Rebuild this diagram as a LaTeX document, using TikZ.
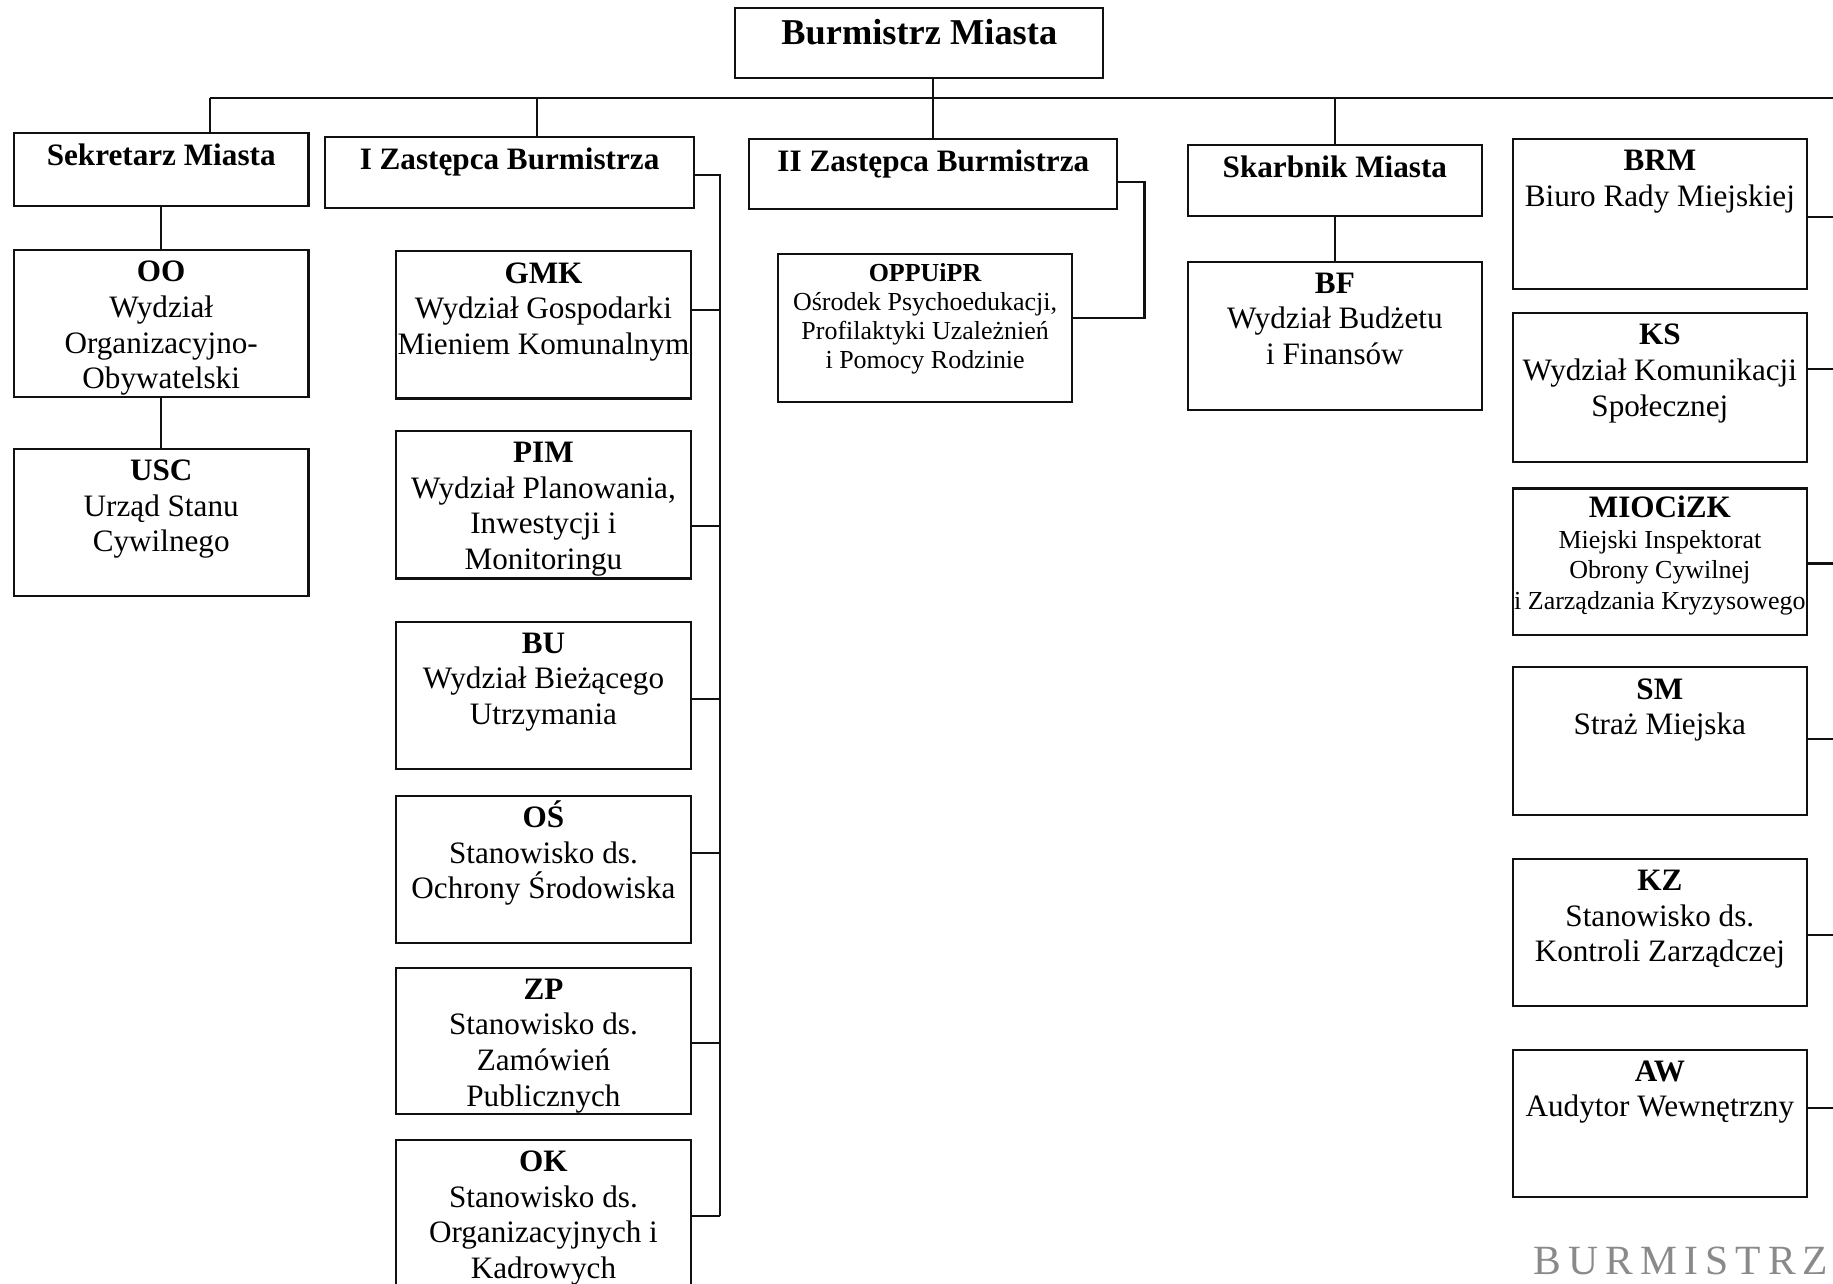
\documentclass[tikz,border=0pt]{standalone}
\usepackage{fontspec}
\setmainfont{Liberation Serif}
\newfontfamily\stampfont[LetterSpace=17]{Liberation Serif}
\usepackage{xcolor}
\definecolor{inkline}{HTML}{111111}
\definecolor{stampgray}{HTML}{8A8A8A}
\newcommand\px{0.45pt}
\tikzset{
  box/.style={draw=inkline, line width=0.8pt, anchor=north west, inner sep=0pt},
  dept/.style={box, minimum width=252*\px, minimum height=126*\px},
  intext/.style={below, align=center, inner sep=0pt, yshift=-4.5pt,
    font=\fontsize{12}{13.7}\selectfont},
  smalltext/.style={intext, font=\fontsize{10}{11.2}\selectfont},
  headtext/.style={intext, font=\fontsize{12}{14}\selectfont\bfseries},
  link/.style={inkline, line width=0.8pt},
  stamp/.style={text=stampgray, font=\stampfont\fontsize{16}{16}\selectfont, inner sep=0pt}
}

\begin{document}
\begin{tikzpicture}[x=\px, y=-\px]
    \fill[white] (0,0) rectangle (1568,1098);
    \useasboundingbox (0,0) rectangle (1568,1098);

    % Burmistrz
    \node[box, minimum width=315*\px, minimum height=60*\px,
      label={[headtext, font=\fontsize{14}{16}\selectfont\bfseries]north:Burmistrz Miasta}]
      (bm) at (628,6) {};

    % first row
    \node[box, minimum width=252*\px, minimum height=62*\px,
      label={[headtext]north:Sekretarz Miasta}] (sek) at (11,113) {};
    \node[box, minimum width=316*\px, minimum height=61*\px,
      label={[headtext]north:I Zastępca Burmistrza}] (z1) at (277,116) {};
    \node[box, minimum width=315*\px, minimum height=60*\px,
      label={[headtext]north:II Zastępca Burmistrza}] (z2) at (640,118) {};
    \node[box, minimum width=252*\px, minimum height=61*\px,
      label={[headtext]north:Skarbnik Miasta}] (skarb) at (1015,123) {};

    % Sekretarz Miasta
    \node[dept, label={[intext]north:{\textbf{OO}\\Wydział\\Organizacyjno-\\Obywatelski}}] (oo) at (11,213) {};
    \node[dept, label={[intext]north:{\textbf{USC}\\Urząd Stanu\\Cywilnego}}] (usc) at (11,383) {};

    % I Zastepca
    \node[dept, label={[intext]north:{\textbf{GMK}\\Wydział Gospodarki\\Mieniem Komunalnym}}] (gmk) at (338,214) {};
    \node[dept, label={[intext]north:{\textbf{PIM}\\Wydział Planowania,\\Inwestycji i\\Monitoringu}}] (pim) at (338,368) {};
    \node[dept, label={[intext]north:{\textbf{BU}\\Wydział Bieżącego\\Utrzymania}}] (bu) at (338,531) {};
    \node[dept, label={[intext]north:{\textbf{O\smash{Ś}}\\Stanowisko ds.\\Ochrony Środowiska}}] (os) at (338,680) {};
    \node[dept, minimum height=125*\px, label={[intext]north:{\textbf{ZP}\\Stanowisko ds.\\Zamówień\\Publicznych}}] (zp) at (338,827) {};
    \node[dept, label={[intext]north:{\textbf{OK}\\Stanowisko ds.\\Organizacyjnych i\\Kadrowych}}] (ok) at (338,974) {};

    % II Zastepca
    \node[dept, minimum width=251*\px, minimum height=127*\px,
      label={[smalltext, yshift=0.5pt]north:{\textbf{OPPUiPR}\\Ośrodek Psychoedukacji,\\Profilaktyki Uzależnień\\i Pomocy Rodzinie}}] (opp) at (665,216) {};

    % Skarbnik
    \node[dept, minimum height=127*\px, label={[intext]north:{\textbf{BF}\\Wydział Budżetu\\i Finansów}}] (bf) at (1015,223) {};

    % right column
    \node[dept, minimum height=128*\px, label={[intext]north:{\textbf{BRM}\\Biuro Rady Miejskiej}}] (brm) at (1293,118) {};
    \node[dept, minimum height=127*\px, label={[intext]north:{\textbf{KS}\\Wydział Komunikacji\\Społecznej}}] (ks) at (1293,267) {};
    \node[dept, minimum height=125*\px,
      label={[smalltext, yshift=1.3pt, font=\fontsize{10}{11.7}\selectfont]north:{{\fontsize{12}{14}\selectfont\textbf{MIOCiZK}}\\Miejski Inspektorat\\Obrony Cywilnej\\i Zarządzania Kryzysowego}}] (mio) at (1293,417) {};
    \node[dept, label={[intext]north:{\textbf{SM}\\Straż Miejska}}] (sm) at (1293,570) {};
    \node[dept, label={[intext]north:{\textbf{KZ}\\Stanowisko ds.\\Kontroli Zarządczej}}] (kz) at (1293,734) {};
    \node[dept, label={[intext]north:{\textbf{AW}\\Audytor Wewnętrzny}}] (aw) at (1293,897) {};

    % stamp
    \node[stamp] (stamp) at (1438,1079) {BURMISTRZ};

    % connectors
    \coordinate (busw) at (180,84);
    \coordinate (busz1) at (459,84);
    \coordinate (rbus) at (1575,84);
    \coordinate (z1bus) at (616,150);
    \coordinate (z2bus) at (979,156);

    \draw[link] (busw) -- (rbus);
    \draw[link] (z2.north |- bm.south) -- (z2.north);
    \draw[link] (busw) -- (busw |- sek.north);
    \draw[link] (busz1) -- (busz1 |- z1.north);
    \draw[link] (skarb.north |- busw) -- (skarb.north);

    \draw[link] (sek.south) -- (oo.north);
    \draw[link] (oo.south) -- (usc.north);
    \draw[link] (skarb.south) -- (bf.north);

    \draw[link] (z1.east |- z1bus) -- (z1bus) -- (z1bus |- 0,1040);
    \foreach \n/\yy in {gmk/265, pim/450, bu/598, os/730, zp/892, ok/1040}
      \draw[link] (\n.east |- 0,\yy) -- (z1bus |- 0,\yy);

    \draw[link] (z2.east |- z2bus) -- (z2bus) -- (z2bus |- 0,272) -- (opp.east |- 0,272);

    \foreach \n/\yy in {brm/186, ks/316, mio/482, sm/632, kz/800, aw/948}
      \draw[link] (\n.east |- 0,\yy) -- (rbus |- 0,\yy);
\end{tikzpicture}
\end{document}
